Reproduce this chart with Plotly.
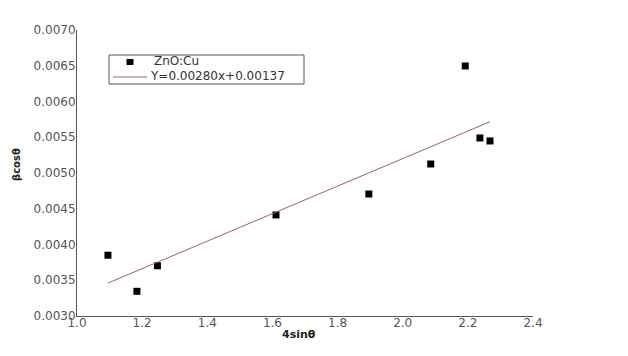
import plotly.graph_objects as go

# data
x_vals = [1.095, 1.184, 1.247, 1.611, 1.896, 2.086, 2.192, 2.237, 2.268]
y_vals = [0.00385, 0.003345, 0.003703, 0.004413, 0.004706, 0.005126, 0.006497, 0.00549, 0.005448]
fit_x = [1.095, 2.268]
fit_y = [0.00346, 0.005717]
series_name = "ZnO:Cu"
fit_name = "Y=0.00280x+0.00137"
x_ticks = [1.0, 1.2, 1.4, 1.6, 1.8, 2.0, 2.2, 2.4]
y_ticks = [0.0030, 0.0035, 0.0040, 0.0045, 0.0050, 0.0055, 0.0060, 0.0065, 0.0070]

W, H = 628, 356
ML, MR, MT, MB = 77, 95, 30, 40
PW, PH = W - ML - MR, H - MT - MB


def px(x):
    return (x - ML) / PW


def py(y):
    return (H - MB - y) / PH


FONT = "DejaVu Sans, Verdana, sans-serif"
MARK_COLOR = "black"
LINE_COLOR = "#a06060"

fig = go.Figure()
fig.add_trace(go.Scatter(
    x=x_vals, y=y_vals, mode="markers", name=series_name,
    marker=dict(symbol="square", size=7, color=MARK_COLOR),
))
fig.add_trace(go.Scatter(
    x=fit_x, y=fit_y, mode="lines", name=fit_name,
    line=dict(color=LINE_COLOR, width=1),
))

tick_font = dict(family=FONT, size=12, color="#555555")

# hand-made legend box (compact, like the reference)
shapes = [
    dict(type="rect", xref="paper", yref="paper", x0=px(109), x1=px(304), y0=py(84), y1=py(55),
         line=dict(color="#555555", width=1), fillcolor="white", layer="above"),
    dict(type="rect", xref="paper", yref="paper", x0=px(126.5), x1=px(133.5), y0=py(65), y1=py(59),
         line=dict(width=0), fillcolor=MARK_COLOR, layer="above"),
    dict(type="line", xref="paper", yref="paper", x0=px(113), x1=px(147), y0=py(77), y1=py(77),
         line=dict(color=LINE_COLOR, width=1), layer="above"),
]

fig.update_layout(
    width=W, height=H,
    margin=dict(l=ML, r=MR, t=MT, b=MB),
    paper_bgcolor="white", plot_bgcolor="white",
    showlegend=False,
    shapes=shapes,
    xaxis=dict(
        range=[1.0, 2.4], tickvals=x_ticks, ticktext=[f"{v:.1f}" for v in x_ticks],
        showgrid=False, zeroline=False, showline=True, linecolor="#555555", linewidth=1,
        ticks="", tickfont=tick_font, ticklabelstandoff=-4,
    ),
    yaxis=dict(
        range=[0.0030, 0.0070], tickvals=y_ticks, ticktext=[f"{v:.4f}" for v in y_ticks],
        showgrid=False, zeroline=False, showline=True, linecolor="#555555", linewidth=1,
        ticks="", tickfont=tick_font, ticklabelstandoff=-2,
    ),
    annotations=[
        dict(text=series_name, xref="paper", yref="paper", x=px(152), y=py(61),
             xanchor="left", yanchor="middle", showarrow=False,
             font=dict(family=FONT, size=12, color="#333333")),
        dict(text=fit_name, xref="paper", yref="paper", x=px(148), y=py(76),
             xanchor="left", yanchor="middle", showarrow=False,
             font=dict(family=FONT, size=12, color="#333333")),
        dict(text="<b>4sinθ</b>", xref="paper", yref="paper", x=px(299), y=py(334),
             xanchor="center", yanchor="middle", showarrow=False,
             font=dict(family=FONT, size=11, color="#222222")),
        dict(text="<b>βcosθ</b>", xref="paper", yref="paper", x=px(17), y=py(165),
             xanchor="center", yanchor="middle", showarrow=False, textangle=-90,
             font=dict(family=FONT, size=10, color="#222222")),
    ],
)

fig.write_html("out.html")
